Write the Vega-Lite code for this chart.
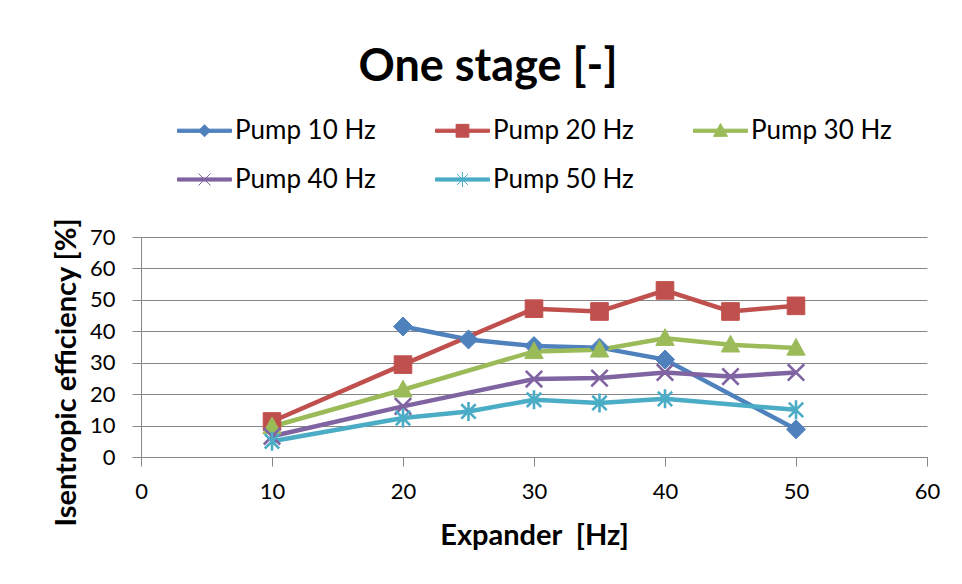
{
  "$schema": "https://vega.github.io/schema/vega-lite/v6.json",
  "width": 786,
  "height": 220,
  "autosize": {"type": "none"},
  "padding": {"left": 141, "top": 237, "right": 35, "bottom": 127},
  "background": "white",
  "config": {
    "font": "Lato",
    "view": {"stroke": null},
    "axis": {"labelFont": "Lato", "titleFont": "Lato"}
  },
  "title": {
    "text": "One stage [-]",
    "font": "Lato",
    "fontSize": 45,
    "fontWeight": "bold",
    "color": "#000000",
    "anchor": "middle",
    "frame": "group",
    "dx": -46,
    "offset": 20
  },
  "data": {
    "values": [
      {"pump": "Pump 10 Hz", "expander": 20, "eff": 41.5},
      {"pump": "Pump 10 Hz", "expander": 25, "eff": 37.4},
      {"pump": "Pump 10 Hz", "expander": 30, "eff": 35.3},
      {"pump": "Pump 10 Hz", "expander": 35, "eff": 34.8},
      {"pump": "Pump 10 Hz", "expander": 40, "eff": 31.0},
      {"pump": "Pump 10 Hz", "expander": 50, "eff": 8.8},
      {"pump": "Pump 20 Hz", "expander": 10, "eff": 11.3},
      {"pump": "Pump 20 Hz", "expander": 20, "eff": 29.4},
      {"pump": "Pump 20 Hz", "expander": 30, "eff": 47.2},
      {"pump": "Pump 20 Hz", "expander": 35, "eff": 46.3},
      {"pump": "Pump 20 Hz", "expander": 40, "eff": 53.0},
      {"pump": "Pump 20 Hz", "expander": 45, "eff": 46.3},
      {"pump": "Pump 20 Hz", "expander": 50, "eff": 48.1},
      {"pump": "Pump 30 Hz", "expander": 10, "eff": 9.7},
      {"pump": "Pump 30 Hz", "expander": 20, "eff": 21.4},
      {"pump": "Pump 30 Hz", "expander": 30, "eff": 33.6},
      {"pump": "Pump 30 Hz", "expander": 35, "eff": 34.1},
      {"pump": "Pump 30 Hz", "expander": 40, "eff": 37.8},
      {"pump": "Pump 30 Hz", "expander": 45, "eff": 35.7},
      {"pump": "Pump 30 Hz", "expander": 50, "eff": 34.7},
      {"pump": "Pump 40 Hz", "expander": 10, "eff": 6.6},
      {"pump": "Pump 40 Hz", "expander": 20, "eff": 16.1},
      {"pump": "Pump 40 Hz", "expander": 30, "eff": 24.8},
      {"pump": "Pump 40 Hz", "expander": 35, "eff": 25.1},
      {"pump": "Pump 40 Hz", "expander": 40, "eff": 26.9},
      {"pump": "Pump 40 Hz", "expander": 45, "eff": 25.6},
      {"pump": "Pump 40 Hz", "expander": 50, "eff": 26.9},
      {"pump": "Pump 50 Hz", "expander": 10, "eff": 5.0},
      {"pump": "Pump 50 Hz", "expander": 20, "eff": 12.4},
      {"pump": "Pump 50 Hz", "expander": 25, "eff": 14.5},
      {"pump": "Pump 50 Hz", "expander": 30, "eff": 18.2},
      {"pump": "Pump 50 Hz", "expander": 35, "eff": 17.2},
      {"pump": "Pump 50 Hz", "expander": 40, "eff": 18.5},
      {"pump": "Pump 50 Hz", "expander": 50, "eff": 15.0}
    ]
  },
  "encoding": {
    "x": {
      "field": "expander",
      "type": "quantitative",
      "scale": {"domain": [0, 60], "nice": false, "zero": true},
      "axis": {
        "values": [0, 10, 20, 30, 40, 50, 60],
        "grid": false,
        "labelFlush": false,
        "domainColor": "#878787",
        "domainWidth": 1,
        "tickColor": "#878787",
        "tickSize": 9,
        "labelFontSize": 22,
        "labelColor": "#000000",
        "labelPadding": 15,
        "title": "Expander \u00a0[Hz]",
        "titleFontSize": 29,
        "titleFontWeight": "bold",
        "titleColor": "#000000",
        "titlePadding": 19
      }
    },
    "y": {
      "field": "eff",
      "type": "quantitative",
      "scale": {"domain": [0, 70], "nice": false},
      "axis": {
        "values": [0, 10, 20, 30, 40, 50, 60, 70],
        "grid": true,
        "labelFlush": false,
        "gridColor": "#878787",
        "gridWidth": 1,
        "domainColor": "#878787",
        "tickColor": "#878787",
        "tickSize": 9,
        "labelFontSize": 22,
        "labelColor": "#000000",
        "labelPadding": 17,
        "title": "Isentropic efficiency [%]",
        "titleFontSize": 29,
        "titleFontWeight": "bold",
        "titleColor": "#000000",
        "titleX": -66,
        "titleY": 135,
        "titleAngle": -90,
        "titleAlign": "center",
        "titleBaseline": "alphabetic"
      }
    }
  },
  "layer": [
    {
      "mark": {"type": "line", "strokeWidth": 4.5},
      "encoding": {
        "color": {
          "field": "pump",
          "type": "nominal",
          "scale": {
            "domain": ["Pump 10 Hz", "Pump 20 Hz", "Pump 30 Hz", "Pump 40 Hz", "Pump 50 Hz"],
            "range": ["#4F81BD", "#C0504D", "#9BBB59", "#8064A2", "#4BACC6"]
          },
          "legend": {
            "orient": "none",
            "legendX": 43,
            "legendY": -127,
            "direction": "horizontal",
            "columns": 3,
            "title": null,
            "symbolSize": 1600,
            "labelFont": "Lato",
            "labelFontSize": 26,
            "labelColor": "#000000",
            "labelOffset": 10,
            "labelLimit": 300,
            "columnPadding": 57,
            "rowPadding": 15,
            "symbolStrokeWidth": 1,
            "encode": {
              "symbols": {
                "update": {
                  "shape": {"signal": "datum.index == 0 ? 'M-1.35,-0.08L1.35,-0.08L1.35,0.08L-1.35,0.08ZM0,-0.3L0.3,0L0,0.3L-0.3,0Z' : datum.index == 1 ? 'M-1.35,-0.08L1.35,-0.08L1.35,0.08L-1.35,0.08ZM-0.32,-0.32L0.32,-0.32L0.32,0.32L-0.32,0.32Z' : datum.index == 2 ? 'M-1.35,-0.08L1.35,-0.08L1.35,0.08L-1.35,0.08ZM0,-0.36L0.35,0.28L-0.35,0.28Z' : datum.index == 3 ? 'M-1.35,-0.08L1.35,-0.08L1.35,0.08L-1.35,0.08ZM-0.3,-0.3L0.3,0.3M-0.3,0.3L0.3,-0.3' : 'M-1.35,-0.08L1.35,-0.08L1.35,0.08L-1.35,0.08ZM-0.27,-0.27L0.27,0.27M-0.27,0.27L0.27,-0.27M0,-0.38L0,0.38'"},
                  "fill": {"signal": "scale('color', datum.value)"},
                  "stroke": {"signal": "scale('color', datum.value)"},
                  "strokeWidth": {"value": 1},
                  "opacity": {"value": 1},
                  "fillOpacity": {"value": 1},
                  "strokeOpacity": {"value": 1}
                }
              }
            }
          }
        }
      }
    },
    {
      "transform": [{"filter": "datum.pump == 'Pump 10 Hz'"}],
      "mark": {"type": "point", "shape": "M0,-0.95L0.95,0L0,0.95L-0.95,0Z", "size": 400, "filled": true, "fill": "#4F81BD", "stroke": "#4F81BD", "strokeWidth": 1, "opacity": 1}
    },
    {
      "transform": [{"filter": "datum.pump == 'Pump 20 Hz'"}],
      "mark": {"type": "point", "shape": "M-0.88,-0.88L0.88,-0.88L0.88,0.88L-0.88,0.88Z", "size": 400, "filled": true, "fill": "#C0504D", "stroke": "#C0504D", "strokeWidth": 1, "opacity": 1}
    },
    {
      "transform": [{"filter": "datum.pump == 'Pump 30 Hz'"}],
      "mark": {"type": "point", "shape": "M0,-0.95L0.92,0.72L-0.92,0.72Z", "size": 400, "filled": true, "fill": "#9BBB59", "stroke": "#9BBB59", "strokeWidth": 1, "opacity": 1}
    },
    {
      "transform": [{"filter": "datum.pump == 'Pump 40 Hz'"}],
      "mark": {"type": "point", "shape": "M-0.82,-0.82L0.82,0.82M-0.82,0.82L0.82,-0.82", "size": 400, "filled": false, "stroke": "#8064A2", "strokeWidth": 2.6, "opacity": 1}
    },
    {
      "transform": [{"filter": "datum.pump == 'Pump 50 Hz'"}],
      "mark": {"type": "point", "shape": "M-0.72,-0.72L0.72,0.72M-0.72,0.72L0.72,-0.72M0,-0.95L0,0.95", "size": 400, "filled": false, "stroke": "#4BACC6", "strokeWidth": 2.6, "opacity": 1}
    }
  ]
}
